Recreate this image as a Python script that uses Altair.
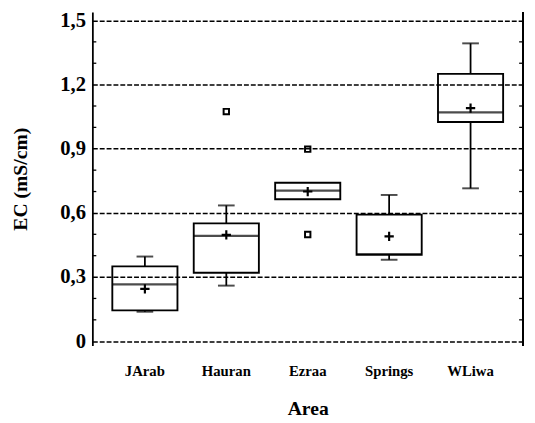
import altair as alt
import pandas as pd

areas = ["JArab", "Hauran", "Ezraa", "Springs", "WLiwa"]
q1 = [0.144, 0.320, 0.664, 0.404, 1.025]
median = [0.266, 0.493, 0.704, 0.408, 1.070]
q3 = [0.350, 0.551, 0.741, 0.592, 1.250]
whisk_lo = [0.138, 0.260, 0.664, 0.381, 0.715]
whisk_hi = [0.396, 0.635, 0.741, 0.684, 1.393]
means = [0.245, 0.497, 0.700, 0.490, 1.090]
out_area = ["Hauran", "Ezraa", "Ezraa"]
out_val = [1.074, 0.898, 0.499]
major_ticks = [0, 0.3, 0.6, 0.9, 1.2, 1.5]
minor_ticks = [0.1, 0.2, 0.4, 0.5, 0.7, 0.8, 1.0, 1.1, 1.3, 1.4]

W, H = 439, 340
FONT = "Liberation Serif"

df = pd.DataFrame({"area": areas, "q1": q1, "median": median, "q3": q3,
                   "lo": whisk_lo, "hi": whisk_hi, "mean": means})
df_hi = df[df["hi"] > df["q3"]]
df_lo = df[df["lo"] < df["q1"]]
df_out = pd.DataFrame({"area": out_area, "value": out_val})
df_minor = pd.DataFrame({"v": minor_ticks})

xsc = alt.Scale(domain=areas, paddingInner=0.2, paddingOuter=0.245)
ysc = alt.Scale(domain=[-0.02, 1.54], nice=False, zero=False)

xenc = alt.X("area:N", scale=xsc, sort=areas,
             axis=alt.Axis(title="Area", labelAngle=0, ticks=False, domain=False,
                           labelFont=FONT, labelFontWeight="bold", labelFontSize=15,
                           labelColor="black", labelPadding=19,
                           titleFont=FONT, titleFontWeight="bold", titleFontSize=20,
                           titleColor="black", titlePadding=20))

yaxis = alt.Axis(title="EC (mS/cm)", values=major_ticks, ticks=False,
                 labelExpr="datum.value == 0 ? '0' : replace(format(datum.value, '.1f'), '.', ',')",
                 labelFont=FONT, labelFontWeight="bold", labelFontSize=21,
                 labelColor="black", labelPadding=7,
                 titleFont=FONT, titleFontWeight="bold", titleFontSize=20,
                 titleColor="black", titlePadding=30,
                 domainColor="black", domainWidth=1.8,
                 grid=True, gridColor="black", gridDash=[5, 2], gridWidth=1.5,
                 gridOpacity=1)

box = alt.Chart(df).mark_bar(fillOpacity=0, stroke="black", strokeWidth=1.9).encode(
    x=xenc,
    y=alt.Y("q1:Q", scale=ysc, axis=yaxis),
    y2="q3:Q",
)
med = alt.Chart(df).mark_tick(color="black", size=66, thickness=2.2).encode(
    x=alt.X("area:N", scale=xsc, sort=areas), y=alt.Y("median:Q", scale=ysc))
wh_hi = alt.Chart(df_hi).mark_rule(color="black", strokeWidth=1.8).encode(
    x=alt.X("area:N", scale=xsc, sort=areas), y=alt.Y("q3:Q", scale=ysc), y2="hi:Q")
wh_lo = alt.Chart(df_lo).mark_rule(color="black", strokeWidth=1.8).encode(
    x=alt.X("area:N", scale=xsc, sort=areas), y=alt.Y("lo:Q", scale=ysc), y2="q1:Q")
cap_hi = alt.Chart(df_hi).mark_tick(color="black", size=17, thickness=2).encode(
    x=alt.X("area:N", scale=xsc, sort=areas), y=alt.Y("hi:Q", scale=ysc))
cap_lo = alt.Chart(df_lo).mark_tick(color="black", size=17, thickness=2).encode(
    x=alt.X("area:N", scale=xsc, sort=areas), y=alt.Y("lo:Q", scale=ysc))
mean_pt = alt.Chart(df).mark_point(shape="M-1,0L1,0M0,-1L0,1", size=90, filled=False,
                                   color="black", strokeWidth=2.2, opacity=1).encode(
    x=alt.X("area:N", scale=xsc, sort=areas), y=alt.Y("mean:Q", scale=ysc))
outl = alt.Chart(df_out).mark_point(shape="square", size=30, filled=False,
                                    color="black", strokeWidth=2, opacity=1).encode(
    x=alt.X("area:N", scale=xsc, sort=areas), y=alt.Y("value:Q", scale=ysc))
minor_l = alt.Chart(df_minor).mark_rule(color="black", strokeWidth=1.3).encode(
    y=alt.Y("v:Q", scale=ysc), x=alt.value(0), x2=alt.value(4))
minor_r = alt.Chart(df_minor).mark_rule(color="black", strokeWidth=1.3).encode(
    y=alt.Y("v:Q", scale=ysc), x=alt.value(W - 4), x2=alt.value(W))
right_axis = alt.Chart(df_minor).mark_rule(color="black", strokeWidth=1.8).encode(
    x=alt.value(W), y=alt.value(0), y2=alt.value(H))

chart = alt.layer(box, med, wh_hi, wh_lo, cap_hi, cap_lo, mean_pt, outl,
                  minor_l, minor_r, right_axis).properties(
    width=W, height=H,
    autosize=alt.AutoSizeParams(type="none"),
    padding={"left": 86, "top": 0, "right": 4, "bottom": 75},
    background="white",
).configure_view(stroke=None)

chart.save("out.html", embed_options={"renderer": "svg", "actions": False})
